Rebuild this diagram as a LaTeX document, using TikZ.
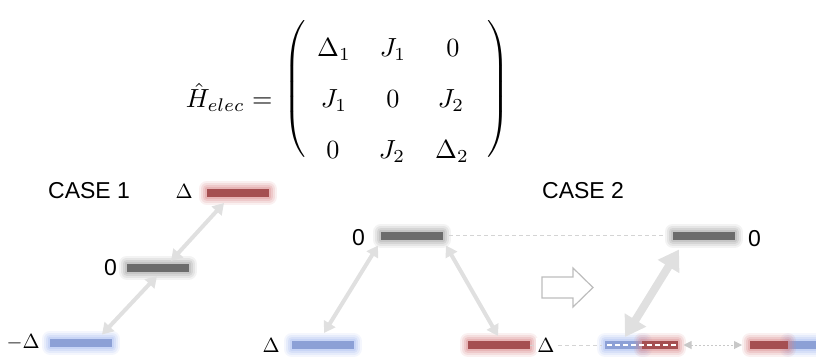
\documentclass[tikz,border=0pt]{standalone}
\usepackage{fontspec}
\newfontfamily\sfont{Liberation Sans}
\usetikzlibrary{arrows.meta}
\definecolor{cR}{HTML}{A54F51}
\definecolor{gR}{HTML}{D98A8C}
\definecolor{cB}{HTML}{8CA0D6}
\definecolor{gB}{HTML}{A8BCF0}
\definecolor{cG}{HTML}{6C6C6C}
\definecolor{gG}{HTML}{A4A4A4}
\definecolor{cA}{HTML}{E0E0E0}
\definecolor{cD}{HTML}{C8C8C8}
\definecolor{cL}{HTML}{D4D4D4}
\definecolor{cO}{HTML}{BDBDBD}
\begin{document}
\begin{tikzpicture}[x=1pt,y=-1pt,
  glow/.style={
    preaction={draw=#1, line width=16pt, draw opacity=0.13, line join=round},
    preaction={draw=#1, line width=12pt, draw opacity=0.18, line join=round},
    preaction={draw=#1, line width=8pt, draw opacity=0.24, line join=round},
    preaction={draw=#1, line width=4pt, draw opacity=0.32, line join=round}},
  bar/.style={minimum width=62pt, minimum height=8pt, inner sep=0pt, outer sep=0pt},
  rbar/.style={bar, fill=cR, glow=gR},
  bbar/.style={bar, fill=cB, glow=gB},
  gbar/.style={bar, fill=cG, glow=gG},
  sbar/.style={minimum width=#1},
  lab/.style={inner sep=0pt, font=\sfont\fontsize{23}{26}\selectfont},
  mlab/.style={inner sep=0pt, scale=2.05},
  ment/.style={inner sep=0pt, anchor=base, scale=2.62},
  paren/.style={inner sep=0pt, scale=2.55},
  biarrow/.style={draw=cA, line width=4pt, {Triangle[width=13pt,length=11pt]}-{Triangle[width=13pt,length=11pt]}},
  bigarrow/.style={draw=cA, line width=8pt, {Triangle[width=24pt,length=20pt]}-{Triangle[width=24pt,length=20pt]}},
  dotarrow/.style={draw=cD, line width=1pt, dash pattern=on 2pt off 2pt, {Triangle[width=8pt,length=8pt]}-{Triangle[width=8pt,length=8pt]}},
  dashline/.style={draw=cL, line width=0.8pt, dash pattern=on 4pt off 3pt},
  whitedash/.style={draw=white, line width=1.3pt, dash pattern=on 5pt off 3pt},
  blockarrow/.style={draw=cO, line width=1.2pt, fill=white}
]
\useasboundingbox (0,0) rectangle (816,358);
\clip (0,0) rectangle (816,358);

% Hamiltonian
\node[ment, anchor=base east] (ham) at (273,108) {$\hat{H}_{elec} =$};
\node[paren] (lp) at (296,89) {$\left(\vcenter{\hbox{\rule{0pt}{58pt}}}\right.$};
\node[paren] (rp) at (497,89) {$\left.\vcenter{\hbox{\rule{0pt}{58pt}}}\right)$};
\node[ment] (m11) at (334,57) {$\Delta_1$};
\node[ment] (m12) at (393,57) {$J_1$};
\node[ment] (m13) at (453,57) {$0$};
\node[ment] (m21) at (334,108) {$J_1$};
\node[ment] (m22) at (393,108) {$0$};
\node[ment] (m23) at (451,108) {$J_2$};
\node[ment] (m31) at (333,159) {$0$};
\node[ment] (m32) at (392,159) {$J_2$};
\node[ment] (m33) at (452,159) {$\Delta_2$};

% titles
\node[lab, anchor=base west] (c1) at (48,198) {CASE 1};
\node[lab, anchor=base west] (c2) at (542,198) {CASE 2};

% bars
\node[rbar] (r1) at (237.5,193) {};
\node[gbar] (g1) at (157.5,267.5) {};
\node[bbar] (b1) at (81,342.5) {};
\node[gbar] (g2) at (412,235.5) {};
\node[bbar] (b2) at (322.5,345) {};
\node[rbar] (r2) at (499,345) {};
\node[gbar] (g3) at (703.5,235.5) {};
\node[bbar, sbar=39pt] (ob) at (624.5,345) {};
\node[rbar, sbar=36pt] (or) at (659.5,345) {};
\node[bbar, sbar=38pt] (rb) at (807,345) {};
\node[rbar, sbar=38pt] (rr) at (769,345) {};

% dashed guide lines
\draw[dashline] ([xshift=6pt]g2.east) -- ([xshift=-7pt]g3.west);
\draw[dashline] (r2.east) -- ([xshift=-3pt]ob.west);
\draw[whitedash] ([xshift=2pt]ob.west) -- (or.east);

% labels
\node[mlab, anchor=east] (l1) at (193,191.5) {$\Delta$};
\node[lab, anchor=east] (l2) at (117,268) {0};
\node[mlab, anchor=east] (l3) at (40,342.5) {$-\Delta$};
\node[lab, anchor=east] (l4) at (365,238) {0};
\node[mlab, anchor=east] (l5) at (280,345) {$\Delta$};
\node[mlab, anchor=west, fill=white, inner xsep=0.5pt] (l6) at (536,345) {$\Delta$};
\node[lab, anchor=west] (l7) at (748,239) {0};

% arrows
\draw[biarrow] ([shift={(-13.5,10)}]r1.center) -- ([shift={(13.5,-6.5)}]g1.center);
\draw[biarrow] ([shift={(-0.5,8.5)}]g1.center) -- ([shift={(21,-8)}]b1.center);
\draw[biarrow] ([shift={(-34,10)}]g2.center) -- ([shift={(1.5,-12)}]b2.center);
\draw[biarrow] ([shift={(34,10)}]g2.center) -- ([shift={(-1,-9)}]r2.center);
\draw[bigarrow] ([shift={(-24.5,14)}]g3.center) -- ([shift={(0.5,-8)}]ob.center);
\draw[dotarrow] ([xshift=6pt]or.east) -- ([xshift=-8pt]rr.west);

% hollow block arrow
\draw[blockarrow] (542,277) -- (573,277) -- (573,268) -- (593,287.5) -- (573,307) -- (573,298) -- (542,298) -- cycle;
\end{tikzpicture}
\end{document}
